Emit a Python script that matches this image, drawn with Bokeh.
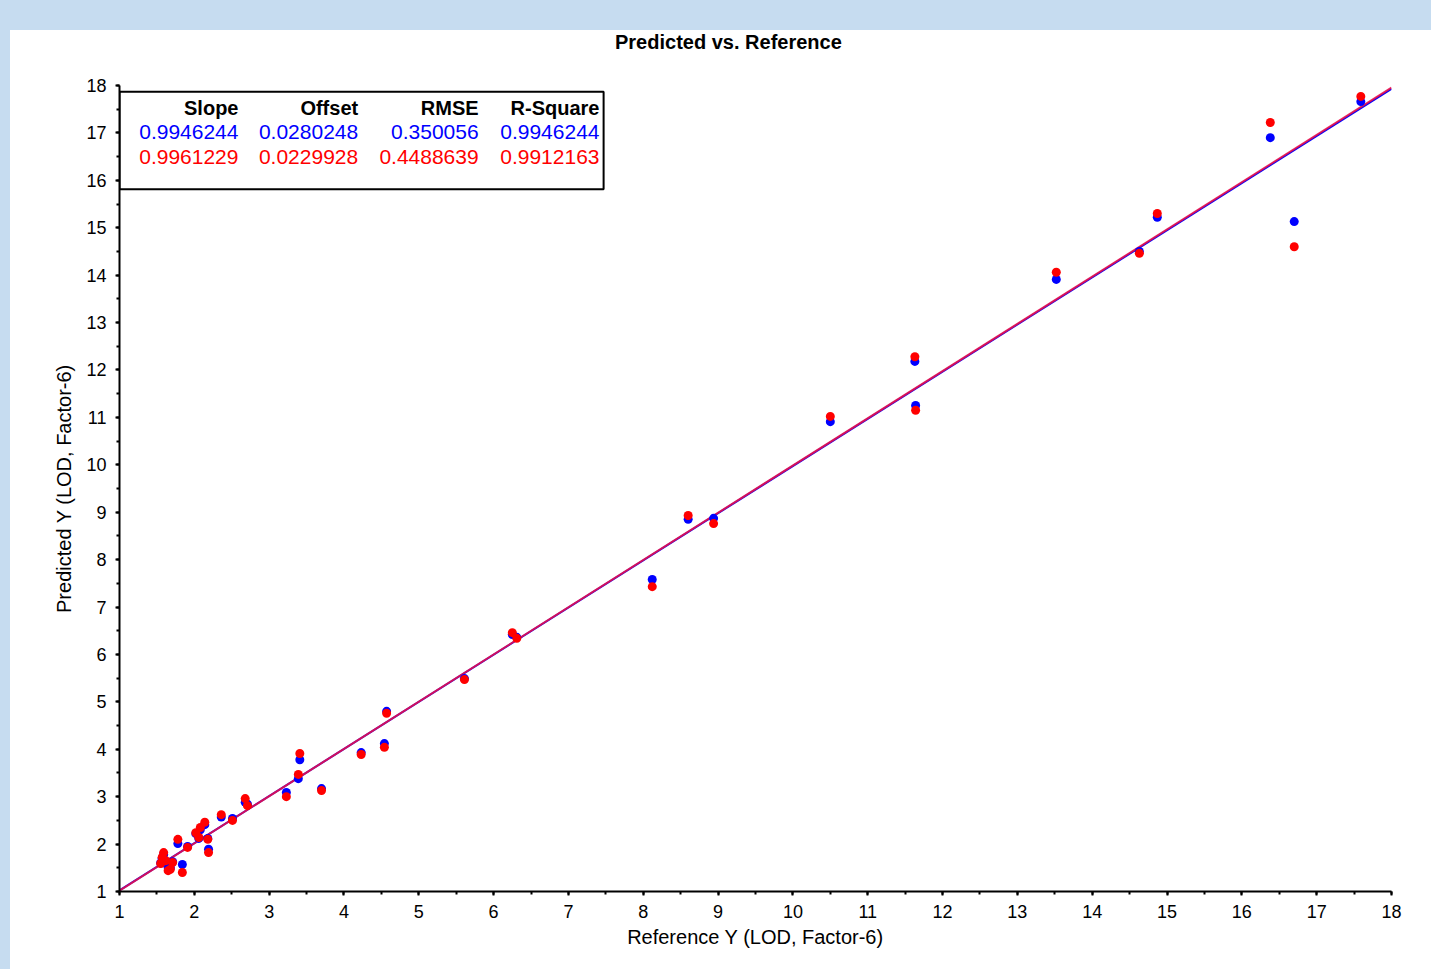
from bokeh.plotting import figure
from bokeh.models import (ColumnDataSource, SingleIntervalTicker, Range1d, BoxAnnotation,
                          Div, Spacer)
from bokeh.layouts import column, row
from bokeh.core.properties import value
from bokeh.embed import file_html
from bokeh.resources import INLINE

# ---------------- data ----------------
reference = [17.59, 16.38, 16.70, 14.87, 14.63, 13.52, 11.63, 11.64, 10.50, 8.60,
             8.94, 8.12, 6.25, 6.31, 5.61, 4.57, 4.54, 4.23, 3.70, 3.41,
             3.39, 3.23, 2.68, 2.71, 2.36, 2.51, 2.14, 2.08, 2.02, 2.06,
             2.18, 2.19, 1.78, 1.91, 1.59, 1.57, 1.62, 1.55, 1.71, 1.65,
             1.84, 1.68]
pred_cal = [17.66, 16.90, 15.13, 15.22, 14.50, 13.91, 12.18, 11.25, 10.91, 8.85,
            8.87, 7.58, 6.42, 6.36, 5.49, 4.80, 4.12, 3.93, 3.17, 3.78,
            3.38, 3.09, 2.88, 2.84, 2.57, 2.54, 2.41, 2.30, 2.22, 2.12,
            2.12, 1.89, 2.01, 1.95, 1.78, 1.70, 1.63, 1.60, 1.63, 1.51,
            1.57, 1.50]
pred_val = [17.77, 17.22, 14.60, 15.30, 14.46, 14.06, 12.28, 11.15, 11.02, 8.93,
            8.76, 7.43, 6.46, 6.34, 5.47, 4.76, 4.04, 3.89, 3.13, 3.91,
            3.47, 3.00, 2.96, 2.81, 2.62, 2.50, 2.46, 2.35, 2.24, 2.14,
            2.10, 1.82, 2.10, 1.93, 1.82, 1.72, 1.65, 1.59, 1.61, 1.44,
            1.40, 1.47]

stat_headers = ["Slope", "Offset", "RMSE", "R-Square"]
cal_stats = [0.9946244, 0.0280248, 0.350056, 0.9946244]
val_stats = [0.9961229, 0.0229928, 0.4488639, 0.9912163]

title_text = "Predicted vs. Reference"
axis_limits = [1, 18]

BG = "#C6DCF0"
BLUE = "#0000FF"
RED = "#FF0000"
FONT = "Liberation Sans"

p = figure(width=1421, height=914, output_backend="svg", toolbar_location=None,
           x_range=Range1d(axis_limits[0], axis_limits[1]),
           y_range=Range1d(axis_limits[0], axis_limits[1]),
           min_border_left=109, min_border_right=40, min_border_top=30, min_border_bottom=78)
p.background_fill_color = "white"
p.border_fill_color = "white"
p.outline_line_color = None
p.grid.visible = False

for ax in (p.xaxis[0], p.yaxis[0]):
    ax.ticker = SingleIntervalTicker(interval=1, num_minor_ticks=2)
    ax.axis_line_color = "black"
    ax.axis_line_width = 2
    ax.major_tick_line_color = "black"
    ax.major_tick_line_width = 2
    ax.minor_tick_line_color = "black"
    ax.minor_tick_line_width = 2
    ax.major_tick_in = 0
    ax.major_tick_out = 4
    ax.minor_tick_in = 0
    ax.minor_tick_out = 3
    ax.major_label_text_font = FONT
    ax.major_label_text_font_size = "18px"
    ax.major_label_text_color = "black"
    ax.axis_label_text_font = FONT
    ax.axis_label_text_font_size = "20px"
    ax.axis_label_text_font_style = "normal"
    ax.axis_label_text_color = "black"

p.xaxis.axis_label = "Reference Y (LOD, Factor-6)"
p.yaxis.axis_label = "Predicted Y (LOD, Factor-6)"
p.xaxis.major_label_standoff = 9
p.yaxis.major_label_standoff = 9
p.xaxis.axis_label_standoff = 5
p.yaxis.axis_label_standoff = 8

# regression lines
xl = list(axis_limits)
p.line(xl, [cal_stats[0] * x + cal_stats[1] for x in xl], line_color=BLUE, line_width=2)
p.line(xl, [val_stats[0] * x + val_stats[1] for x in xl], line_color="#E8104A", line_width=2,
       line_alpha=0.9)

src = ColumnDataSource(dict(x=reference, cal=pred_cal, val=pred_val))
p.scatter("x", "cal", source=src, size=9, fill_color=BLUE, line_color=None)
p.scatter("x", "val", source=src, size=9, fill_color=RED, line_color=None)

# statistics table
box = BoxAnnotation(left=1.0, right=7.47, bottom=15.81, top=17.87, fill_color="white",
                    fill_alpha=1, line_color="black", line_alpha=1, line_width=2,
                    level="underlay")
p.add_layout(box)

col_x = [2.59, 4.19, 5.80, 7.415]
row_y = [17.52, 17.01, 16.50]
p.text(x=col_x, y=[row_y[0]] * 4, text=stat_headers, text_align="right",
       text_baseline="middle", text_font=value(FONT), text_font_size="20px",
       text_font_style="bold", text_color="black")
p.text(x=col_x, y=[row_y[1]] * 4, text=[str(v) for v in cal_stats], text_align="right",
       text_baseline="middle", text_font=value(FONT), text_font_size="21px",
       text_color=BLUE)
p.text(x=col_x, y=[row_y[2]] * 4, text=[str(v) for v in val_stats], text_align="right",
       text_baseline="middle", text_font=value(FONT), text_font_size="21px",
       text_color=RED)

title_div = Div(
    text=('<div style="margin-left:605px;font-family:\'Liberation Sans\';font-weight:bold;'
          'font-size:20px;line-height:25px;color:black;white-space:nowrap">'
          + title_text + '</div>'),
    width=1421, height=25, margin=0, styles={"background-color": "white"})

top = Spacer(width=1431, height=30, margin=0, styles={"background-color": BG})
left = Spacer(width=10, height=939, margin=0, styles={"background-color": BG})
layout = column(top, row(left, column(title_div, p, spacing=0, margin=0), spacing=0, margin=0),
                spacing=0, margin=0)

open("out.html", "w").write(file_html(layout, INLINE))
